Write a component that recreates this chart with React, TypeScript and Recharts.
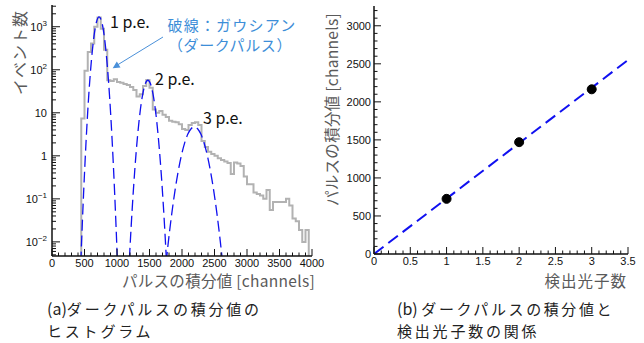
import React from 'react';
import { LineChart, Line, XAxis, YAxis } from 'recharts';

// ---------- Panel (a): histogram of dark-pulse integral ----------
const histBinStart = 450;
const histBinWidth = 50;
const histCounts = [
  7.4, 95, 260, 410, 1000, 1650, 900, 290, 57, 55, 60, 52,
  50, 47, 44, 40, 34, 24, 27, 42, 58, 38,
  12, 10, 11, 9, 8, 6.5, 6.2, 6, 5.4, 4.2,
  4, 5.2, 5.8, 6, 5.2, 2.2, 1.6, 1.25, 1.1, 1.0,
  0.88, 0.8, 0.74, 0.68, 0.38, 0.7, 0.66, 0.58, 0.33, 0.22,
  0.22, 0.14, 0.13, 0.12, 0.1, 0.16, 0.055, 0.085, 0.085, 0.085,
  0.085, 0.1, 0.07, 0.035, 0.03, 0.019, 0.01, 0.019,
];
const histFloor = 0.0001;

const gauss1X = [425, 445, 485, 525, 565, 605, 645, 685, 725, 765, 805, 845, 885, 925, 965, 1005, 1025];
const gauss1Y = [0.00059, 0.004, 0.124, 2.3, 25, 157, 590, 1305, 1700, 1305, 590, 157, 25, 2.3, 0.124, 0.004, 0.00059];
const gauss2X = [1155, 1175, 1200, 1235, 1275, 1315, 1355, 1395, 1435, 1475, 1515, 1555, 1595, 1635, 1675, 1715, 1750, 1775, 1795];
const gauss2Y = [0.00031, 0.00135, 0.0074, 0.0625, 0.5, 2.75, 10.4, 26.7, 47.2, 57, 47.2, 26.7, 10.4, 2.75, 0.5, 0.0625, 0.0074, 0.00135, 0.00031];
const gauss3X = [1730, 1750, 1790, 1840, 1890, 1940, 1990, 2040, 2090, 2140, 2190, 2240, 2290, 2340, 2390, 2440, 2490, 2540, 2590, 2630, 2650];
const gauss3Y = [0.00137, 0.0027, 0.01, 0.0423, 0.148, 0.425, 1.01, 1.98, 3.2, 4.27, 4.7, 4.27, 3.2, 1.98, 1.01, 0.425, 0.148, 0.0423, 0.01, 0.0027, 0.00137];

const xDomainA = [0, 4000];
const yDomainA = [0.0047, 3200];
const xMajorA = [0, 500, 1000, 1500, 2000, 2500, 3000, 3500, 4000];
const xTicksA = Array.from({ length: 41 }, (_, i) => i * 100);
const yMajorA = [0.01, 0.1, 1, 10, 100, 1000];
const yMajorBaseA = ['10', '10', '1', '10', '10', '10'];
const yMajorExpA = ['\u22122', '\u22121', '', '', '2', '3'];
const yMinorMultipliers = [2, 3, 4, 5, 6, 7, 8, 9];

// ---------- Panel (b): integral vs. photon number ----------
const photonN = [1, 2, 3];
const integralMean = [725, 1470, 2165];
const fitX = [0, 3.5];
const fitY = [0, 2550];
const xDomainB = [0, 3.5];
const yDomainB = [0, 3260];
const xMajorB = [0, 0.5, 1, 1.5, 2, 2.5, 3, 3.5];
const yMajorB = [0, 500, 1000, 1500, 2000, 2500, 3000];

// ---------- build chart data ----------
const histData = [
  { x: histBinStart - histBinWidth, h: histFloor },
  ...histCounts.map((c, i) => ({ x: histBinStart + i * histBinWidth, h: c })),
  { x: histBinStart + histCounts.length * histBinWidth, h: histFloor },
];
const g1Data = gauss1X.map((x, i) => ({ x, g: gauss1Y[i] }));
const g2Data = gauss2X.map((x, i) => ({ x, g: gauss2Y[i] }));
const g3Data = gauss3X.map((x, i) => ({ x, g: gauss3Y[i] }));

const yTicksA: number[] = [];
[0.001, 0.01, 0.1, 1, 10, 100, 1000].forEach((d) => {
  if (d >= 0.01) yTicksA.push(d);
  yMinorMultipliers.forEach((m) => {
    const v = parseFloat((d * m).toPrecision(6));
    if (v >= yDomainA[0] && v <= yDomainA[1]) yTicksA.push(v);
  });
});
yTicksA.sort((a, b) => a - b);

const xTicksB = Array.from({ length: 36 }, (_, i) => parseFloat((i * 0.1).toFixed(1)));
const yTicksB = Array.from({ length: 33 }, (_, i) => i * 100);

const pointsB = photonN.map((n, i) => ({ x: n, y: integralMean[i] }));
const fitData = fitX.map((x, i) => ({ x, y: fitY[i] }));

const TICK_FONT = '"Liberation Sans", Arial, Helvetica, sans-serif';
const JP_FONT = '"Noto Sans CJK JP", "Noto Sans", sans-serif';
const AXIS_STROKE = '#111';

const isMajor = (arr: number[], v: number) => arr.some((m) => Math.abs(m - v) < 1e-9 * Math.max(1, Math.abs(m)));

const XTickA = (p: any) => {
  const { x, y, payload } = p;
  const v = payload.value;
  const major = isMajor(xMajorA, v);
  return (
    <g>
      <line x1={x} x2={x} y1={y} y2={y - (major ? 7 : 3.5)} stroke={AXIS_STROKE} strokeWidth={1} />
      {major && (
        <text x={x} y={y + 11} textAnchor="middle" fontSize={11} fontFamily={TICK_FONT} fill="#111">
          {v}
        </text>
      )}
    </g>
  );
};

const YTickA = (p: any) => {
  const { x, y, payload } = p;
  const v = payload.value;
  const idx = yMajorA.findIndex((m) => Math.abs(m - v) < m * 1e-6);
  const major = idx >= 0;
  return (
    <g>
      <line x1={x} x2={x + (major ? 8 : 4)} y1={y} y2={y} stroke={AXIS_STROKE} strokeWidth={1} />
      {major && (
        <text x={x - 5} y={y + 4} textAnchor="end" fontSize={11} fontFamily={TICK_FONT} fill="#111">
          {yMajorBaseA[idx]}
          {yMajorExpA[idx] !== '' && (
            <tspan dy={-5} fontSize={8}>
              {yMajorExpA[idx]}
            </tspan>
          )}
        </text>
      )}
    </g>
  );
};

const XTickB = (p: any) => {
  const { x, y, payload } = p;
  const v = payload.value;
  const major = isMajor(xMajorB, v);
  return (
    <g>
      <line x1={x} x2={x} y1={y} y2={y - (major ? 7 : 3.5)} stroke={AXIS_STROKE} strokeWidth={1} />
      {major && (
        <text x={x} y={y + 11} textAnchor="middle" fontSize={11} fontFamily={TICK_FONT} fill="#111">
          {v}
        </text>
      )}
    </g>
  );
};

const YTickB = (p: any) => {
  const { x, y, payload } = p;
  const v = payload.value;
  const major = isMajor(yMajorB, v);
  return (
    <g>
      <line x1={x} x2={x + (major ? 7 : 3.5)} y1={y} y2={y} stroke={AXIS_STROKE} strokeWidth={1} />
      {major && (
        <text x={x - 3} y={y + 4} textAnchor="end" fontSize={11} fontFamily={TICK_FONT} fill="#111">
          {v}
        </text>
      )}
    </g>
  );
};

const frameLine = { stroke: '#111', strokeWidth: 1.5 };

export default function App() {
  return (
    <div style={{ position: 'absolute', left: 0, top: 0, width: 644, height: 343, background: '#fff', overflow: 'hidden' }}>
      <div style={{ position: 'absolute', left: 0, top: 0 }}>
        <LineChart width={330} height={290} margin={{ top: 5, right: 18, left: 0, bottom: 0 }}>
          <XAxis
            dataKey="x"
            type="number"
            domain={xDomainA}
            ticks={xTicksA}
            interval={0}
            height={34}
            tickSize={0}
            tickMargin={0}
            tickLine={false}
            tick={XTickA}
            axisLine={frameLine}
            allowDataOverflow
          />
          <XAxis xAxisId="top" orientation="top" type="number" domain={xDomainA} height={0} tick={false} tickLine={false} axisLine={frameLine} />
          <YAxis
            type="number"
            scale="log"
            domain={yDomainA}
            ticks={yTicksA}
            interval={0}
            width={52}
            tickSize={0}
            tickMargin={0}
            tickLine={false}
            tick={YTickA}
            axisLine={frameLine}
            allowDataOverflow
          />
          <YAxis yAxisId="right" orientation="right" type="number" domain={[0, 1]} width={0} tick={false} tickLine={false} axisLine={frameLine} />
          <Line data={histData} dataKey="h" type="stepAfter" stroke="#b2b2b2" strokeWidth={2} dot={false} isAnimationActive={false} />
          <Line data={g1Data} dataKey="g" type="monotone" stroke="#1010f0" strokeWidth={1.3} strokeDasharray="11 5" dot={false} isAnimationActive={false} />
          <Line data={g2Data} dataKey="g" type="monotone" stroke="#1010f0" strokeWidth={1.3} strokeDasharray="11 5" dot={false} isAnimationActive={false} />
          <Line data={g3Data} dataKey="g" type="monotone" stroke="#1010f0" strokeWidth={1.3} strokeDasharray="11 5" dot={false} isAnimationActive={false} />
        </LineChart>
      </div>

      <div style={{ position: 'absolute', left: 330, top: 0 }}>
        <LineChart width={314} height={290} margin={{ top: 6, right: 16, left: 0, bottom: 0 }}>
          <XAxis
            dataKey="x"
            type="number"
            domain={xDomainB}
            ticks={xTicksB}
            interval={0}
            height={36}
            tickSize={0}
            tickMargin={0}
            tickLine={false}
            tick={XTickB}
            axisLine={frameLine}
            allowDataOverflow
          />
          <XAxis xAxisId="top" orientation="top" type="number" domain={xDomainB} height={0} tick={false} tickLine={false} axisLine={frameLine} />
          <YAxis
            type="number"
            domain={yDomainB}
            ticks={yTicksB}
            interval={0}
            width={44}
            tickSize={0}
            tickMargin={0}
            tickLine={false}
            tick={YTickB}
            axisLine={frameLine}
            allowDataOverflow
          />
          <YAxis yAxisId="right" orientation="right" type="number" domain={[0, 1]} width={0} tick={false} tickLine={false} axisLine={frameLine} />
          <Line data={fitData} dataKey="y" type="linear" stroke="#1010f0" strokeWidth={2} strokeDasharray="12 6" dot={false} isAnimationActive={false} />
          <Line
            data={pointsB}
            dataKey="y"
            stroke="none"
            dot={{ r: 4.5, fill: '#000', stroke: '#000', strokeWidth: 1 }}
            isAnimationActive={false}
          />
        </LineChart>
      </div>

      <svg width={644} height={343} style={{ position: 'absolute', left: 0, top: 0, pointerEvents: 'none' }}>
        {/* axis titles */}
        <text transform="translate(19,10) rotate(-90)" textAnchor="end" dominantBaseline="central" fontSize={16} letterSpacing={1} fontFamily={JP_FONT} fill="#5a5a5a">
          イベント数
        </text>
        <text x={315} y={287} textAnchor="end" fontSize={15.5} letterSpacing={0.3} fontFamily={JP_FONT} fill="#5a5a5a">
          パルスの積分値 [channels]
        </text>
        <text transform="translate(331,13) rotate(-90)" textAnchor="end" dominantBaseline="central" fontSize={15.5} letterSpacing={0.3} fontFamily={JP_FONT} fill="#5a5a5a">
          パルスの積分値 [channels]
        </text>
        <text x={627} y={287} textAnchor="end" fontSize={15.5} letterSpacing={1} fontFamily={JP_FONT} fill="#5a5a5a">
          検出光子数
        </text>

        {/* peak annotations */}
        <text x={110} y={28} fontSize={16} fontFamily={JP_FONT} fill="#111">1 p.e.</text>
        <text x={155} y={85} fontSize={16} fontFamily={JP_FONT} fill="#111">2 p.e.</text>
        <text x={203} y={124} fontSize={16} fontFamily={JP_FONT} fill="#111">3 p.e.</text>

        <text x={232} y={31} textAnchor="middle" fontSize={15} letterSpacing={1.2} fontFamily={JP_FONT} fill="#3d8ed8">破線：ガウシアン</text>
        <text x={230} y={51} textAnchor="middle" fontSize={15} letterSpacing={0.6} fontFamily={JP_FONT} fill="#3d8ed8">（ダークパルス）</text>
        <line x1={163} y1={37} x2={118} y2={64.6} stroke="#4a90d9" strokeWidth={1} />
        <polygon points="112.7,68.3 120.5,67.6 116.8,61.6" fill="#4a90d9" />

        {/* captions */}
        <text x={47} y={315} fontSize={15} fontFamily={JP_FONT} fill="#222">
          <tspan fontSize={16}>(a)</tspan>
          <tspan letterSpacing={2.8}>ダークパルスの積分値の</tspan>
        </text>
        <text x={47} y={337} fontSize={15} letterSpacing={2.8} fontFamily={JP_FONT} fill="#222">ヒストグラム</text>
        <text x={397} y={315} fontSize={15} fontFamily={JP_FONT} fill="#222">
          <tspan fontSize={16}>{'(b)\u00a0'}</tspan>
          <tspan letterSpacing={2.6}>ダークパルスの積分値と</tspan>
        </text>
        <text x={397} y={337} fontSize={15} letterSpacing={2.8} fontFamily={JP_FONT} fill="#222">検出光子数の関係</text>
      </svg>
    </div>
  );
}
